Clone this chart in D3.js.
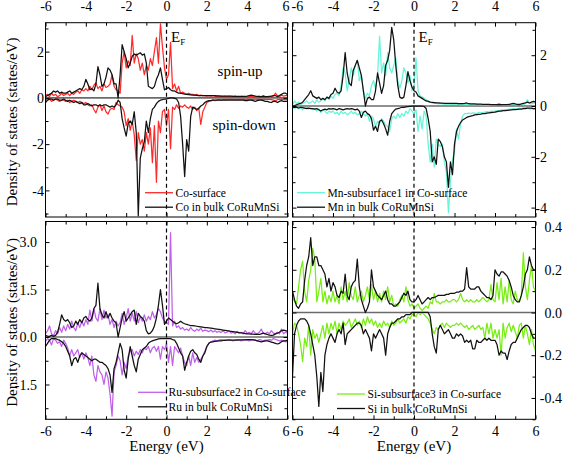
<!DOCTYPE html>
<html><head><meta charset="utf-8">
<script src="https://cdn.jsdelivr.net/npm/d3@7"></script>
<style>body{margin:0;background:#fff}svg{display:block}text{font-family:"Liberation Serif","Times New Roman","DejaVu Serif",serif}</style>
</head><body><svg id="c" width="567" height="457"></svg>
<script>
// ---------- DATA (energy grid: -6 to 6 eV, step 0.1) ----------
const energyStart = -6, energyStep = 0.1;
const xTickValues = [-6,-4,-2,0,2,4,6];

// Co (top-left)
const coUpSurf = [0.1,0.15,0.05,0.2,0.1,0.15,0.05,0.1,0.2,0.1, 0.15,0.2,0.1,0.2,0.15,0.25,0.3,0.2,0.35,0.3, 0.4,0.3,0.5,0.35,0.55,0.65,0.4,0.5,0.3,0.6, 0.45,0.5,0.6,1.0,0.5,0.35,0.3,0.2,1.5,2.0, 1.3,1.6,1.4,2.7,1.5,1.9,1.7,1.2,1.5,1.0, 1.4,1.2,1.7,1.4,2.0,2.6,1.5,3.2,2.2,1.3, 0.8,1.0,2.4,0.4,0.6,0.3,0.5,0.2,0.25,0.2, 0.15,0.2,0.15,0.15,0.12,0.15,0.1,0.12,0.1,0.1, 0.08,0.1,0.08,0.1,0.07,0.08,0.06,0.07,0.05,0.06, 0.05,0.07,0.05,0.06,0.08,0.05,0.04,0.06,0.05,0.05, 0.04,0.05,0.07,0.05,0.04,0.06,0.08,0.05,0.1,0.05, 0.04,0.06,0.05,0.08,0.2,0.1,0.05,0.12,0.08,0.1, 0.1];
const coUpBulk = [0.05,0.1,0.15,0.2,0.3,0.25,0.3,0.2,0.25,0.2, 0.2,0.25,0.3,0.2,0.25,0.3,0.35,0.4,0.35,0.5, 0.8,0.6,0.35,0.4,0.3,0.6,1.35,1.0,0.5,0.6, 0.9,1.3,1.2,1.0,0.6,0.6,0.0,1.0,2.3,2.0, 1.7,1.3,1.5,1.8,1.9,1.85,1.9,1.95,1.85,1.9, 1.5,0.5,0.45,0.4,0.5,0.8,1.0,1.3,0.8,0.35, 0.4,0.45,0.35,0.3,0.3,0.25,0.2,0.2,0.18,0.16, 0.15,0.14,0.13,0.12,0.12,0.11,0.1,0.1,0.1,0.1, 0.1,0.1,0.1,0.1,0.1,0.09,0.09,0.08,0.08,0.08, 0.08,0.08,0.08,0.07,0.07,0.07,0.07,0.07,0.07,0.07, 0.08,0.1,0.12,0.1,0.08,0.06,0.05,0.05,0.06,0.05, 0.05,0.06,0.08,0.1,0.1,0.05,0.1,0.15,0.2,0.2, 0.15];
const coDnSurf = [-0.05,-0.1,-0.05,-0.15,-0.1,-0.05,-0.1,-0.15,-0.1,-0.1, -0.15,-0.1,-0.2,-0.15,-0.1,-0.15,-0.2,-0.15,-0.2,-0.25, -0.2,-0.3,-0.35,-0.3,-0.5,-0.65,-0.4,-0.3,-0.55,-0.35, -0.6,-0.7,-0.5,-0.45,-0.5,-0.2,-0.3,-0.35,-0.4,-0.6, -1.2,-0.9,-1.4,-1.0,-1.6,-2.7,-1.5,-2.0,-1.8,-2.3, -1.5,-2.0,-1.3,-2.8,-1.2,-3.65,-1.0,-1.5,-0.6,-0.5, -1.2,-0.5,-2.2,-0.4,-0.5,-0.3,-0.45,-0.35,-0.4,-0.3, -0.4,-0.45,-0.35,-0.5,-0.4,-0.55,-0.45,-1.15,-0.6,-0.4, -0.2,-0.15,-0.12,-0.1,-0.12,-0.1,-0.08,-0.1,-0.08,-0.07, -0.08,-0.06,-0.07,-0.06,-0.08,-0.07,-0.06,-0.07,-0.06,-0.07, -0.06,-0.07,-0.08,-0.06,-0.05,-0.06,-0.07,-0.08,-0.07,-0.06, -0.07,-0.06,-0.08,-0.1,-0.12,-0.08,-0.06,-0.05,-0.07,-0.08, -0.08];
const coDnBulk = [-0.2,-0.1,-0.05,-0.05,-0.1,-0.05,-0.05,-0.1,-0.1,-0.05, -0.1,-0.15,-0.1,-0.15,-0.2,-0.15,-0.2,-0.25,-0.2,-0.3, -0.3,-0.25,-0.3,-0.35,-0.3,-0.3,-0.35,-0.3,-0.35,-0.3, -0.3,-0.35,-0.4,-0.35,-0.4,-0.3,-0.1,-0.2,-0.9,-1.3, -1.65,-1.1,-1.0,-1.15,-0.6,-1.5,-5.1,-2.6,-2.2,-1.9, -1.0,-1.5,-0.9,-0.5,-0.4,-0.25,-0.15,-0.1,-0.08,-0.05, -0.05,-0.02,0,0,-0.02,-0.05,-0.2,-0.8,-2.0,-3.4, -1.8,-2.3,-0.8,-0.4,-0.45,-0.5,-0.45,-0.35,-0.3,-0.2, -0.15,-0.12,-0.12,-0.1,-0.1,-0.1,-0.1,-0.1,-0.1,-0.1, -0.1,-0.1,-0.1,-0.1,-0.1,-0.1,-0.1,-0.1,-0.1,-0.12, -0.12,-0.1,-0.1,-0.12,-0.15,-0.12,-0.1,-0.1,-0.12,-0.15, -0.15,-0.18,-0.2,-0.15,-0.15,-0.2,-0.15,-0.12,-0.15,-0.15, -0.15];

// Mn (top-right)
const mnUpSurf = [0.05,0.2,0.1,0.15,0.05,0.1,0.15,0.2,0.1,0.15, 0.2,0.1,0.25,0.15,0.2,0.3,0.2,0.35,0.25,0.4, 0.3,0.45,0.5,0.4,0.8,1.5,1.3,0.6,1.0,1.5, 1.2,1.6,1.8,1.0,1.2,0.6,0.3,0.5,0.4,0.8, 1.0,0.7,1.2,2.75,1.3,1.7,1.2,2.1,1.5,1.3, 1.6,1.9,1.0,0.7,1.0,1.5,1.3,0.9,1.2,0.6, 0.8,1.9,0.6,0.4,0.35,0.3,0.25,0.2,0.15,0.12, 0.1,0.1,0.08,0.1,0.08,0.07,0.08,0.07,0.06,0.07, 0.06,0.07,0.06,0.05,0.06,0.05,0.06,0.05,0.05,0.05, 0.05,0.06,0.05,0.04,0.05,0.04,0.05,0.04,0.04,0.05, 0.04,0.05,0.1,0.05,0.04,0.05,0.04,0.06,0.08,0.06, 0.05,0.06,0.1,0.08,0.05,0.1,0.25,0.1,0.08,0.12, 0.1];
const mnUpBulk = [0.0,0.02,0.05,0.08,0.1,0.15,0.25,0.35,0.45,0.6, 0.4,0.35,0.3,0.35,0.25,0.3,0.25,0.35,0.3,0.45, 0.5,0.7,0.55,0.5,0.6,1.2,2.1,1.3,0.9,0.8, 1.4,1.6,1.8,1.5,1.2,0.6,0.0,0.3,0.35,0.25, 0.25,0.6,1.3,0.9,0.5,0.8,1.6,1.8,2.2,3.1, 2.6,1.6,0.8,0.35,0.3,0.35,0.8,1.35,1.0,0.75, 0.6,0.55,0.4,0.35,0.3,0.25,0.2,0.18,0.15,0.14, 0.13,0.12,0.12,0.11,0.11,0.1,0.1,0.1,0.1,0.1, 0.1,0.1,0.09,0.09,0.09,0.1,0.12,0.09,0.08,0.08, 0.08,0.07,0.07,0.07,0.06,0.06,0.06,0.06,0.05,0.05, 0.05,0.05,0.06,0.05,0.05,0.05,0.05,0.06,0.08,0.1, 0.08,0.06,0.05,0.08,0.1,0.12,0.15,0.12,0.15,0.18, 0.15];
const mnDnSurf = [-0.05,-0.1,-0.05,-0.12,-0.08,-0.15,-0.1,-0.05,-0.12,-0.08, -0.15,-0.1,-0.2,-0.12,-0.25,-0.15,-0.2,-0.3,-0.2,-0.25, -0.2,-0.3,-0.25,-0.35,-0.2,-0.3,-0.25,-0.35,-0.3,-0.2, -0.3,-0.25,-0.35,-0.3,-0.2,-0.3,-0.4,-0.3,-0.6,-0.4, -0.5,-0.8,-0.6,-0.7,-0.5,-0.6,-0.75,-0.8,-1.0,-0.5, -0.4,-0.5,-0.3,-0.45,-0.3,-0.4,-0.2,-0.3,-0.1,-0.2, -0.3,-0.15,-1.0,-0.4,-0.9,-0.2,-0.4,-1.5,-2.2,-1.5, -2.4,-1.3,-1.5,-1.6,-1.5,-2.2,-2.6,-4.2,-3.0,-2.1, -1.8,-0.9,-1.3,-0.7,-0.4,-0.3,-0.3,-0.28,-0.3,-0.27, -0.28,-0.3,-0.25,-0.27,-0.25,-0.24,-0.22,-0.24,-0.2,-0.22, -0.2,-0.18,-0.2,-0.15,-0.16,-0.14,-0.15,-0.12,-0.13,-0.1, -0.1,-0.12,-0.08,-0.1,-0.06,-0.05,-0.08,-0.12,-0.1,-0.12, -0.1];
const mnDnBulk = [-0.05,-0.05,-0.05,-0.08,-0.05,-0.06,-0.08,-0.1,-0.08,-0.1, -0.1,-0.12,-0.1,-0.15,-0.2,-0.15,-0.12,-0.15,-0.1,-0.12, -0.1,-0.12,-0.15,-0.1,-0.12,-0.15,-0.12,-0.1,-0.12,-0.1, -0.12,-0.15,-0.12,-0.2,-0.45,-0.25,-0.2,-0.3,-0.35,-0.5, -0.95,-0.8,-1.0,-0.6,-0.55,-0.7,-0.9,-1.15,-0.6,-0.3, -0.2,-0.12,-0.1,-0.08,-0.05,-0.05,-0.03,-0.02,-0.01,0, 0,0,0,0,0,-0.02,-0.1,-0.5,-1.0,-2.2, -2.0,-2.3,-1.3,-1.4,-1.6,-2.0,-2.2,-3.2,-2.2,-2.7, -1.5,-1.0,-0.8,-0.65,-0.55,-0.5,-0.45,-0.42,-0.4,-0.38, -0.35,-0.34,-0.33,-0.32,-0.3,-0.3,-0.28,-0.27,-0.26,-0.25, -0.24,-0.22,-0.2,-0.2,-0.18,-0.18,-0.17,-0.16,-0.15,-0.14, -0.14,-0.13,-0.12,-0.12,-0.1,-0.1,-0.08,-0.08,-0.08,-0.1, -0.1];

// Ru (bottom-left)
const ruUpSurf = [0.1,0.2,0.35,0.1,0.05,0.2,0.1,0.3,0.15,0.35, 0.2,0.4,0.25,0.5,0.3,0.2,0.45,0.3,0.5,0.35, 0.55,0.4,0.85,0.5,0.9,0.6,0.5,0.9,0.55,0.85, 0.6,0.7,0.4,0.55,0.3,0.5,0.35,0.45,0.75,0.4, 0.6,0.9,0.5,0.75,0.5,0.8,0.45,0.65,0.5,0.7, 0.5,0.65,0.55,0.8,0.6,0.7,0.9,0.8,0.6,0.5, 0.45,0.4,3.3,0.35,0.5,0.3,0.35,0.25,0.3,0.22, 0.25,0.2,0.3,0.22,0.18,0.25,0.2,0.28,0.18,0.22, 0.2,0.17,0.22,0.16,0.2,0.15,0.18,0.14,0.2,0.13, 0.15,0.2,0.12,0.15,0.1,0.18,0.12,0.15,0.1,0.2, 0.12,0.15,0.1,0.2,0.12,0.1,0.15,0.25,0.12,0.1, 0.15,0.1,0.2,0.12,0.1,0.15,0.1,0.25,0.1,0.15, 0.12];
const ruUpBulk = [0.05,0.03,0.02,0.05,0.02,0.05,0.15,0.4,0.7,0.55, 0.5,0.55,0.45,0.3,0.35,0.5,0.4,0.55,0.45,0.6, 0.65,0.55,0.5,0.6,0.9,1.0,1.7,0.9,0.7,0.6, 0.8,0.6,0.75,0.6,0.5,0.45,0.0,0.3,0.6,0.8, 0.5,0.6,0.7,0.8,0.85,0.4,0.75,0.65,0.6,0.5, 0.2,0.1,0.12,0.2,0.35,0.6,1.0,1.5,1.0,0.4, 0.5,0.6,0.55,0.5,0.45,0.42,0.45,0.5,0.45,0.42, 0.4,0.38,0.36,0.36,0.35,0.34,0.33,0.32,0.31,0.3, 0.3,0.29,0.28,0.27,0.26,0.25,0.24,0.23,0.22,0.21, 0.2,0.19,0.18,0.17,0.16,0.15,0.14,0.13,0.12,0.11, 0.1,0.1,0.09,0.09,0.08,0.08,0.08,0.1,0.12,0.1, 0.08,0.06,0.05,0.06,0.1,0.12,0.15,0.2,0.22,0.2, 0.18];
const ruDnSurf = [-0.15,-0.05,-0.1,-0.25,-0.05,-0.1,-0.2,-0.15,-0.3,-0.1, -0.2,-0.35,-0.6,-0.4,-0.6,-0.5,-0.4,-0.65,-0.5,-0.7, -0.5,-0.65,-0.9,-0.6,-1.2,-1.4,-0.9,-1.1,-1.2,-1.5, -1.1,-1.3,-1.8,-2.5,-1.1,-0.9,-0.6,-0.75,-1.2,-0.8, -1.0,-0.6,-0.45,-0.4,-0.6,-0.45,-0.55,-0.4,-0.5,-0.35, -0.4,-0.3,-0.5,-0.35,-0.3,-0.45,-0.3,-0.7,-0.3,-0.4, -0.2,-0.8,-0.3,-0.9,-0.3,-0.4,-0.5,-0.35,-0.6,-0.8, -0.9,-0.6,-0.9,-0.5,-0.8,-0.65,-0.8,-0.7,-0.6,-0.45, -0.3,-0.2,-0.15,-0.12,-0.1,-0.12,-0.1,-0.08,-0.1,-0.09, -0.1,-0.08,-0.1,-0.12,-0.1,-0.08,-0.1,-0.12,-0.1,-0.08, -0.1,-0.12,-0.1,-0.08,-0.1,-0.12,-0.08,-0.1,-0.12,-0.1, -0.1,-0.08,-0.1,-0.05,-0.07,-0.1,-0.12,-0.1,-0.12,-0.15, -0.15];
const ruDnBulk = [-0.3,-0.2,-0.1,-0.05,-0.05,-0.05,-0.08,-0.1,-0.15,-0.2, -0.3,-0.45,-0.6,-0.9,-0.7,-0.65,-0.8,-0.6,-0.5,-0.55, -0.6,-0.65,-0.7,-0.75,-0.7,-0.7,-0.75,-0.8,-0.8,-0.85, -0.9,-1.0,-1.2,-1.75,-1.0,-0.8,-0.5,-0.2,-0.4,-1.05, -1.3,-0.7,-0.3,-0.6,-0.9,-1.1,-0.7,-0.55,-0.4,-0.35, -0.3,-0.2,-0.15,-0.12,-0.1,-0.08,-0.06,-0.05,-0.05,-0.05, -0.05,-0.05,-0.05,-0.08,-0.1,-0.2,-0.35,-0.5,-0.6,-1.05, -0.8,-0.6,-0.45,-0.4,-0.5,-0.55,-0.7,-0.8,-0.6,-0.5, -0.3,-0.2,-0.16,-0.15,-0.14,-0.13,-0.12,-0.12,-0.11,-0.11, -0.1,-0.1,-0.1,-0.1,-0.1,-0.1,-0.09,-0.09,-0.09,-0.09, -0.08,-0.08,-0.08,-0.09,-0.1,-0.12,-0.14,-0.15,-0.14,-0.12, -0.12,-0.14,-0.16,-0.18,-0.2,-0.22,-0.2,-0.15,-0.12,-0.12, -0.1];

// Si (bottom-right)
const siUpSurf = [0.07,0.05,0.04,0.12,0.2,0.24,0.1,0.05,0.15,0.2, 0.3,0.25,0.05,0.1,0.16,0.05,0.1,0.04,0.08,0.05, 0.1,0.05,0.08,0.04,0.12,0.06,0.1,0.05,0.14,0.08, 0.06,0.12,0.05,0.08,0.1,0.05,0.08,0.12,0.06,0.13, 0.06,0.1,0.05,0.09,0.05,0.1,0.06,0.12,0.05,0.08, 0.03,0.04,0.03,0.06,0.08,0.05,0.12,0.06,0.03,0.04, 0.02,0.03,0.04,0.02,0.01,0.02,0.03,0.02,0.05,0.04, 0.09,0.05,0.05,0.04,0.05,0.05,0.06,0.05,0.05,0.06, 0.06,0.05,0.06,0.09,0.06,0.05,0.06,0.05,0.06,0.05, 0.05,0.06,0.05,0.06,0.07,0.06,0.05,0.06,0.13,0.06, 0.05,0.14,0.06,0.16,0.04,0.12,0.05,0.15,0.06,0.04, 0.1,0.06,0.05,0.08,0.28,0.12,0.06,0.15,0.22,0.12, 0.1];
const siUpBulk = [0.1,0.06,0.03,0.02,0.04,0.05,0.15,0.22,0.26,0.35, 0.22,0.26,0.26,0.22,0.22,0.2,0.18,0.12,0.16,0.1, 0.14,0.12,0.08,0.07,0.1,0.09,0.18,0.08,0.06,0.12, 0.14,0.15,0.25,0.12,0.06,0.03,0.0,0.02,0.05,0.2, 0.12,0.1,0.08,0.07,0.06,0.08,0.1,0.06,0.04,0.04, 0.03,0.03,0.04,0.05,0.07,0.09,0.08,0.1,0.06,0.05, 0.05,0.06,0.08,0.06,0.04,0.05,0.06,0.07,0.06,0.07, 0.07,0.075,0.08,0.08,0.08,0.08,0.085,0.085,0.09,0.09, 0.09,0.095,0.095,0.1,0.1,0.11,0.21,0.12,0.11,0.11, 0.11,0.12,0.12,0.1,0.09,0.08,0.07,0.07,0.06,0.08, 0.2,0.18,0.17,0.19,0.19,0.18,0.17,0.15,0.12,0.08, 0.06,0.05,0.05,0.08,0.12,0.18,0.2,0.26,0.22,0.2, 0.2];
const siDnSurf = [-0.1,-0.05,-0.06,-0.1,-0.15,-0.23,-0.12,-0.16,-0.06,-0.2, -0.08,-0.12,-0.1,-0.14,-0.1,-0.06,-0.12,-0.05,-0.1,-0.05, -0.08,-0.04,-0.1,-0.05,-0.08,-0.04,-0.06,-0.05,-0.03,-0.07, -0.05,-0.03,-0.06,-0.04,-0.07,-0.03,-0.06,-0.02,-0.05,-0.03, -0.06,-0.04,-0.07,-0.05,-0.07,-0.04,-0.06,-0.05,-0.07,-0.04, -0.06,-0.05,-0.03,-0.05,-0.04,-0.03,-0.05,-0.02,-0.03,-0.01, -0.01,-0.02,0,-0.01,0,-0.01,-0.02,-0.03,-0.05,-0.08, -0.1,-0.07,-0.08,-0.06,-0.05,-0.07,-0.05,-0.06,-0.07,-0.06, -0.06,-0.05,-0.06,-0.05,-0.06,-0.07,-0.06,-0.08,-0.07,-0.06, -0.08,-0.07,-0.06,-0.08,-0.07,-0.12,-0.05,-0.1,-0.05,-0.12, -0.08,-0.12,-0.08,-0.2,-0.05,-0.12,-0.07,-0.05,-0.09,-0.06, -0.09,-0.12,-0.06,-0.05,-0.12,-0.06,-0.1,-0.15,-0.08,-0.15, -0.18];
const siDnBulk = [-0.3,-0.1,-0.06,-0.04,-0.03,-0.03,-0.03,-0.04,-0.06,-0.1, -0.15,-0.2,-0.3,-0.44,-0.28,-0.37,-0.2,-0.15,-0.12,-0.1, -0.12,-0.14,-0.1,-0.08,-0.1,-0.05,-0.15,-0.1,-0.09,-0.08, -0.07,-0.06,-0.05,-0.05,-0.06,-0.1,-0.08,-0.1,-0.12,-0.18, -0.1,-0.12,-0.1,-0.08,-0.1,-0.12,-0.2,-0.1,-0.07,-0.05, -0.05,-0.04,-0.03,-0.03,-0.02,-0.02,-0.01,-0.01,-0.01,0, 0,0,0,0,0,0,0,0,-0.02,-0.1, -0.16,-0.19,-0.08,-0.06,-0.08,-0.1,-0.09,-0.08,-0.1,-0.12, -0.12,-0.1,-0.11,-0.1,-0.11,-0.14,-0.13,-0.14,-0.13,-0.17, -0.17,-0.13,-0.14,-0.14,-0.13,-0.12,-0.13,-0.12,-0.13,-0.13, -0.13,-0.15,-0.2,-0.18,-0.19,-0.19,-0.22,-0.18,-0.15,-0.14, -0.14,-0.12,-0.1,-0.08,-0.07,-0.06,-0.06,-0.07,-0.1,-0.12, -0.12];

// Labels
const legendSurf = ["Co-surface","Mn-subsurface1 in Co-surface","Ru-subsurface2 in Co-surface","Si-subsurface3 in Co-surface"];
const legendBulk = ["Co in bulk CoRuMnSi","Mn in bulk CoRuMnSi","Ru in bulk CoRuMnSi","Si in bulk CoRuMnSi"];
const yTitle = "Density of states (states/eV)";
const xTitle = "Energy (eV)";

// ---------- LAYOUT ----------
const panels = [
  {x0:45.5,x1:287.5,y0:22.7,y1:217,yDom:[-5.15,3.25],major:[-4,-2,0,2],minor:[-5,-3,-1,1,3],fmt:d=>String(d),
   labelSide:"left",labelPad:1.5,xLabels:"top",color:"#ff2b2b",col:"left",
   surfUp:coUpSurf,surfDn:coDnSurf,bulkUp:coUpBulk,bulkDn:coDnBulk,leg:0,legX:145,legY:192.7,ef:true,spin:true},
  {x0:292.5,x1:535.5,y0:22.7,y1:217,yDom:[-4.37,3.28],major:[-4,-2,0,2],minor:[-3,-1,1,3],fmt:d=>String(d),
   labelSide:"right",labelRight:547,xLabels:"top",color:"#66f5d8",col:"right",
   surfUp:mnUpSurf,surfDn:mnDnSurf,bulkUp:mnUpBulk,bulkDn:mnDnBulk,leg:1,legX:297,legY:192.7,ef:true},
  {x0:45.5,x1:287.5,y0:221.5,y1:419.3,yDom:[-2.6,3.65],major:[-1.5,0,1.5,3],minor:[-2.25,-0.75,0.75,2.25],fmt:d=>d.toFixed(1),
   labelSide:"left",labelPad:8.5,xLabels:"bottom",color:"#c060ea",col:"left",
   surfUp:ruUpSurf,surfDn:ruDnSurf,bulkUp:ruUpBulk,bulkDn:ruDnBulk,leg:2,legX:138,legY:392.3},
  {x0:292.5,x1:535.5,y0:221.5,y1:419.3,yDom:[-0.5,0.426],major:[-0.4,-0.2,0,0.2,0.4],minor:[-0.5,-0.3,-0.1,0.1,0.3],fmt:d=>d.toFixed(1),
   labelSide:"right",labelRight:562,xLabels:"bottom",color:"#77ee11",col:"right",
   surfUp:siUpSurf,surfDn:siDnSurf,bulkUp:siUpBulk,bulkDn:siDnBulk,leg:3,legX:337,legY:394}
];

const svg = d3.select("#c");
const fmtMinus = s => s.replace("\u2212","-");
const FONT = "Liberation Serif";

panels.forEach((p,pi)=>{
  const x = d3.scaleLinear().domain([-6,6]).range([p.x0,p.x1]);
  const y = d3.scaleLinear().domain(p.yDom).range([p.y1,p.y0]);
  const g = svg.append("g");
  const clipId = "clip"+pi;
  g.append("clipPath").attr("id",clipId).append("rect")
    .attr("x",p.x0).attr("y",p.y0).attr("width",p.x1-p.x0).attr("height",p.y1-p.y0);

  const line = d3.line().x((d,i)=>x(energyStart+i*energyStep)).y(d=>y(d));
  const plot = g.append("g").attr("clip-path",`url(#${clipId})`);

  plot.append("line").attr("x1",p.x0).attr("x2",p.x1).attr("y1",y(0)).attr("y2",y(0))
    .attr("stroke","#6b6b6b").attr("stroke-width",1.6);

  [[p.surfUp,p.color],[p.surfDn,p.color],[p.bulkUp,"#111"],[p.bulkDn,"#111"]].forEach(([arr,c])=>{
    plot.append("path").attr("d",line(arr)).attr("fill","none").attr("stroke",c)
      .attr("stroke-width",1.25).attr("stroke-linejoin","round");
  });

  plot.append("line").attr("x1",x(0)).attr("x2",x(0)).attr("y1",p.y0).attr("y2",p.y1)
    .attr("stroke","#000").attr("stroke-width",1.2).attr("stroke-dasharray","4,3");

  const mkAxis = (axisFn, scale, values, size, fmt, translate) => {
    const a = axisFn(scale).tickValues(values).tickSize(size).tickPadding(0).tickFormat(fmt||(()=>""));
    const ag = g.append("g").attr("transform",translate).call(a);
    ag.select(".domain").remove();
    ag.selectAll("line").attr("stroke","#000").attr("stroke-width",1);
    return ag;
  };
  mkAxis(d3.axisLeft,y,p.major,-4,null,`translate(${p.x0},0)`);
  mkAxis(d3.axisLeft,y,p.minor,-3,null,`translate(${p.x0},0)`);
  mkAxis(d3.axisRight,y,p.major,-4,null,`translate(${p.x1},0)`);
  mkAxis(d3.axisRight,y,p.minor,-3,null,`translate(${p.x1},0)`);
  const ylab = mkAxis(p.labelSide==="left"?d3.axisLeft:d3.axisRight, y, p.major, 0, d=>fmtMinus(p.fmt(d)),
     `translate(${p.labelSide==="left"?p.x0:p.x1},0)`);
  ylab.selectAll("line").remove();
  ylab.selectAll("text").attr("font-family",FONT).attr("font-size",14).attr("fill","#000")
    .attr("text-anchor","end")
    .attr("x", p.labelSide==="left" ? -p.labelPad : (p.labelRight-p.x1))
    .attr("dy","0.34em");

  const xMinor = [-5,-3,-1,1,3,5];
  mkAxis(d3.axisTop,x,xTickValues,-4,null,`translate(0,${p.y0})`);
  mkAxis(d3.axisTop,x,xMinor,-3,null,`translate(0,${p.y0})`);
  mkAxis(d3.axisBottom,x,xTickValues,-4,null,`translate(0,${p.y1})`);
  mkAxis(d3.axisBottom,x,xMinor,-3,null,`translate(0,${p.y1})`);
  const xlab = mkAxis(p.xLabels==="top"?d3.axisTop:d3.axisBottom, x, xTickValues, 0, d=>fmtMinus(String(d)),
     `translate(0,${p.xLabels==="top"?p.y0:p.y1})`);
  xlab.selectAll("line").remove();
  xlab.selectAll("text").attr("font-family",FONT).attr("font-size",14).attr("fill","#000");
  // labels at the shared edge between the two columns are pushed apart so they do not collide
  xlab.selectAll("text").filter(d => (p.col==="left" && d===6))
    .attr("text-anchor","end").attr("x",1.5);
  xlab.selectAll("text").filter(d => (p.col==="right" && d===-6))
    .attr("text-anchor","start").attr("x",-1.5);
  if(p.xLabels==="top") xlab.selectAll("text").attr("y",-12).attr("dy","0");
  else xlab.selectAll("text").attr("y",7).attr("dy","0.71em");

  g.append("rect").attr("x",p.x0).attr("y",p.y0).attr("width",p.x1-p.x0).attr("height",p.y1-p.y0)
    .attr("fill","none").attr("stroke","#000").attr("stroke-width",1);

  const lg = g.append("g").attr("font-family",FONT).attr("font-size",11.5);
  [[legendSurf[p.leg],p.color,0],[legendBulk[p.leg],"#111",14.5]].forEach(([t,c,dy])=>{
    lg.append("line").attr("x1",p.legX).attr("x2",p.legX+28).attr("y1",p.legY+dy).attr("y2",p.legY+dy)
      .attr("stroke",c).attr("stroke-width",1.3);
    lg.append("text").attr("x",p.legX+30.5).attr("y",p.legY+dy+4).text(t);
  });

  if(p.ef){
    const t = g.append("text").attr("x",x(0)+4.5).attr("y",42).attr("font-family",FONT).attr("font-size",15);
    t.append("tspan").text("E");
    t.append("tspan").attr("font-size",9).attr("dy",3).text("F");
  }
  if(p.spin){
    g.append("text").attr("x",x(3.65)).attr("y",76).attr("text-anchor","middle").attr("font-family",FONT).attr("font-size",15).text("spin-up");
    g.append("text").attr("x",x(3.85)).attr("y",129.5).attr("text-anchor","middle").attr("font-family",FONT).attr("font-size",15).text("spin-down");
  }
  if(p.labelSide==="left"){
    g.append("text").attr("transform",`translate(11.5,${(p.y0+p.y1)/2+2}) rotate(-90)`).attr("text-anchor","middle")
      .attr("dy","0.35em").attr("font-family",FONT).attr("font-size",15).text(yTitle);
  }
  if(p.xLabels==="bottom"){
    g.append("text").attr("x",x(0)).attr("y",451).attr("text-anchor","middle")
      .attr("font-family",FONT).attr("font-size",15).text(xTitle);
  }
});
</script></body></html>
